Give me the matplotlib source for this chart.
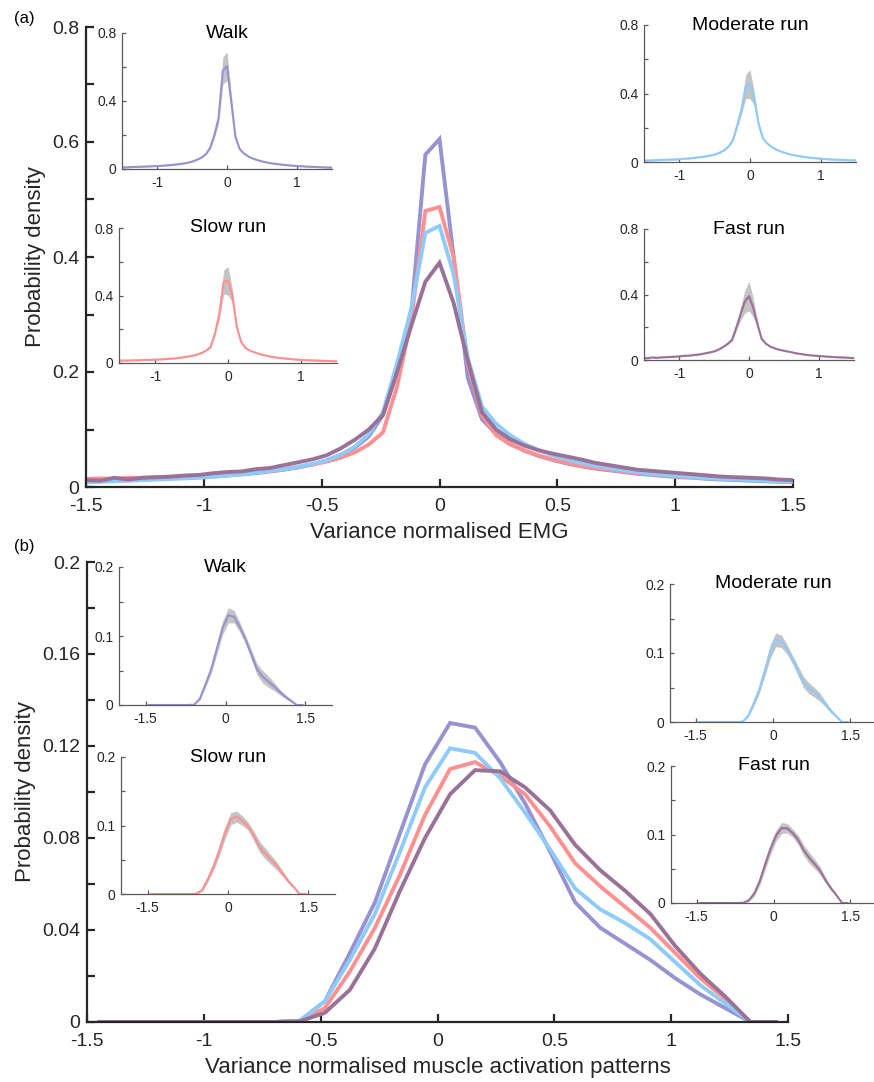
import matplotlib.pyplot as plt
import numpy as np
from matplotlib.ticker import MultipleLocator

plt.rcParams["font.family"] = ["Liberation Sans", "DejaVu Sans"]

conditions = ["Walk", "Slow run", "Moderate run", "Fast run"]
colors = ["#9793d0", "#ff9090", "#8ecbfa", "#9a7297"]

# (a) variance normalised EMG, bins of 0.06 from -1.5 to 1.5
emg_x = np.linspace(-1.5, 1.5, 51)
emg_walk = [0.009, 0.010, 0.011, 0.012, 0.013, 0.014, 0.015, 0.016, 0.017, 0.018,
            0.020, 0.022, 0.024, 0.027, 0.030, 0.034, 0.039, 0.046, 0.056, 0.068,
            0.088, 0.125, 0.200, 0.300, 0.578, 0.605, 0.400, 0.190, 0.118, 0.092,
            0.075, 0.063, 0.054, 0.047, 0.041, 0.036, 0.032, 0.029, 0.026, 0.023,
            0.021, 0.019, 0.017, 0.016, 0.014, 0.013, 0.012, 0.011, 0.010, 0.009,
            0.009]
emg_slow = [0.014, 0.015, 0.014, 0.016, 0.016, 0.017, 0.018, 0.018, 0.020, 0.021,
            0.022, 0.024, 0.026, 0.028, 0.031, 0.035, 0.039, 0.044, 0.051, 0.060,
            0.074, 0.095, 0.175, 0.290, 0.480, 0.487, 0.400, 0.215, 0.125, 0.090,
            0.074, 0.064, 0.055, 0.048, 0.042, 0.037, 0.033, 0.030, 0.027, 0.024,
            0.022, 0.020, 0.018, 0.017, 0.016, 0.015, 0.014, 0.013, 0.012, 0.011,
            0.011]
emg_mod = [0.008, 0.009, 0.010, 0.011, 0.012, 0.013, 0.014, 0.015, 0.016, 0.018,
           0.020, 0.022, 0.025, 0.028, 0.031, 0.035, 0.040, 0.046, 0.056, 0.070,
           0.092, 0.130, 0.215, 0.310, 0.442, 0.454, 0.370, 0.225, 0.140, 0.110,
           0.090, 0.075, 0.064, 0.055, 0.048, 0.042, 0.037, 0.033, 0.029, 0.026,
           0.023, 0.021, 0.019, 0.017, 0.015, 0.014, 0.013, 0.012, 0.011, 0.010,
           0.010]
emg_fast = [0.012, 0.011, 0.016, 0.013, 0.016, 0.017, 0.018, 0.020, 0.021, 0.024,
            0.026, 0.027, 0.031, 0.033, 0.038, 0.043, 0.048, 0.055, 0.067, 0.082,
            0.100, 0.125, 0.200, 0.280, 0.357, 0.390, 0.320, 0.220, 0.130, 0.100,
            0.083, 0.072, 0.064, 0.058, 0.053, 0.048, 0.042, 0.038, 0.034, 0.030,
            0.028, 0.026, 0.024, 0.022, 0.020, 0.018, 0.017, 0.016, 0.015, 0.013,
            0.012]
# spread between subjects (grey band in the insets)
emg_sd_walk = [0.003] * 21 + [0.008, 0.015, 0.030, 0.080, 0.085, 0.040, 0.015, 0.006] + [0.003] * 22
emg_sd_slow = [0.003] * 21 + [0.008, 0.015, 0.030, 0.070, 0.085, 0.040, 0.015, 0.006] + [0.003] * 22
emg_sd_mod = [0.003] * 21 + [0.008, 0.015, 0.030, 0.070, 0.085, 0.040, 0.015, 0.006] + [0.003] * 22
emg_sd_fast = [0.003] * 21 + [0.010, 0.020, 0.040, 0.070, 0.090, 0.060, 0.020, 0.008] + [0.003] * 22

# (b) variance normalised muscle activation patterns, 28 bins
map_x = np.linspace(-1.5, 1.5, 29)[:-1] + 3 / 56
map_walk = [0, 0, 0, 0, 0, 0, 0, 0, 0.0005, 0.009, 0.030, 0.052, 0.082, 0.112,
            0.130, 0.128, 0.113, 0.095, 0.074, 0.052, 0.041, 0.034, 0.027, 0.019,
            0.012, 0.006, 0, 0]
map_slow = [0, 0, 0, 0, 0, 0, 0, 0, 0.0005, 0.006, 0.022, 0.041, 0.064, 0.090,
            0.110, 0.113, 0.107, 0.099, 0.085, 0.069, 0.059, 0.050, 0.041, 0.030,
            0.019, 0.010, 0, 0]
map_mod = [0, 0, 0, 0, 0, 0, 0, 0, 0.0005, 0.009, 0.027, 0.047, 0.074, 0.102,
           0.119, 0.117, 0.106, 0.091, 0.075, 0.058, 0.049, 0.043, 0.036, 0.026,
           0.016, 0.008, 0, 0]
map_fast = [0, 0, 0, 0, 0, 0, 0, 0, 0.0003, 0.004, 0.014, 0.032, 0.057, 0.080,
            0.099, 0.1095, 0.109, 0.102, 0.092, 0.077, 0.066, 0.057, 0.047, 0.033,
            0.021, 0.011, 0, 0]
map_sd_walk = [0] * 9 + [0.002, 0.004, 0.006, 0.008, 0.010, 0.011, 0.009, 0.007, 0.006,
                         0.007, 0.008, 0.009, 0.008, 0.006, 0.004, 0.003, 0.002] + [0] * 2
map_sd_slow = [0] * 9 + [0.002, 0.004, 0.006, 0.008, 0.009, 0.009, 0.008, 0.007, 0.006,
                         0.007, 0.008, 0.008, 0.007, 0.006, 0.004, 0.003, 0.002] + [0] * 2
map_sd_mod = [0] * 9 + [0.002, 0.004, 0.006, 0.008, 0.010, 0.010, 0.009, 0.007, 0.006,
                        0.007, 0.008, 0.008, 0.007, 0.006, 0.004, 0.003, 0.002] + [0] * 2
map_sd_fast = [0] * 9 + [0.002, 0.004, 0.006, 0.008, 0.008, 0.008, 0.008, 0.007, 0.006,
                         0.007, 0.008, 0.008, 0.007, 0.006, 0.004, 0.003, 0.002] + [0] * 2

FIG_W, FIG_H = 874, 1082
INK = "#262626"


def px_rect(left, top, right, bottom):
    """Convierte un rectangulo en pixeles de la figura a fracciones."""
    return [left / FIG_W, 1 - bottom / FIG_H, (right - left) / FIG_W, (bottom - top) / FIG_H]


def style_axes(ax, lw, color, labelsize, ticklen, xpad, ypad):
    ax.spines["top"].set_visible(False)
    ax.spines["right"].set_visible(False)
    for side in ("left", "bottom"):
        ax.spines[side].set_linewidth(lw)
        ax.spines[side].set_color(color)
    ax.tick_params(which="both", direction="in", width=lw, color=color,
                   labelsize=labelsize, labelcolor=INK, length=ticklen)
    ax.tick_params(axis="x", which="both", pad=xpad)
    ax.tick_params(axis="y", which="both", pad=ypad)


def draw_main(ax, x, series, ylim, ymajor, yminor, xlabel):
    for y, c in zip(series, colors):
        ax.plot(x, y, color=c, lw=2.8, solid_joinstyle="miter")
    ax.set_xlim(-1.5, 1.5)
    ax.set_ylim(*ylim)
    ax.xaxis.set_major_locator(MultipleLocator(0.5))
    ax.yaxis.set_major_locator(MultipleLocator(ymajor))
    ax.yaxis.set_minor_locator(MultipleLocator(yminor))
    ax.xaxis.set_major_formatter(lambda v, p: f"{v:g}")
    ax.yaxis.set_major_formatter(lambda v, p: f"{v:g}")
    style_axes(ax, 1.6, INK, 14, 6, 8, 5)
    ax.set_xlabel(xlabel, fontsize=16, color=INK, labelpad=5)
    ax.set_ylabel("Probability density", fontsize=16, color=INK, labelpad=4)


def draw_inset(fig, rect, x, y, sd, color, title, xlim, xticks, ylim, ymajor):
    ax = fig.add_axes(rect)
    y = np.asarray(y)
    sd = np.asarray(sd)
    ax.fill_between(x, y - sd, y + sd, color="#c4c4c4", lw=0)
    ax.plot(x, y, color=color, lw=1.5)
    ax.set_xlim(*xlim)
    ax.set_ylim(*ylim)
    ax.set_xticks(xticks)
    ax.yaxis.set_major_locator(MultipleLocator(ymajor))
    ax.yaxis.set_minor_locator(MultipleLocator(ymajor / 2))
    ax.xaxis.set_major_formatter(lambda v, p: f"{v:g}")
    ax.yaxis.set_major_formatter(lambda v, p: f"{v:g}")
    style_axes(ax, 0.9, "#5a5a5a", 10, 3, 5, 4)
    ax.text(0.5, 1.0, title, transform=ax.transAxes, ha="center", va="center",
            fontsize=14, color="black")
    return ax


fig = plt.figure(figsize=(FIG_W / 100, FIG_H / 100), dpi=100)

# panel (a)
ax_a = fig.add_axes(px_rect(86, 27, 793, 487))
draw_main(ax_a, emg_x, [emg_walk, emg_slow, emg_mod, emg_fast], (0, 0.8), 0.2, 0.1,
          "Variance normalised EMG")
fig.text(14 / FIG_W, 1 - 18 / FIG_H, "(a)", fontsize=12, va="center")

emg_sets = [(emg_walk, emg_sd_walk), (emg_slow, emg_sd_slow), (emg_mod, emg_sd_mod), (emg_fast, emg_sd_fast)]
emg_rects = [px_rect(122, 33, 332, 169), px_rect(119, 228, 337, 363),
             px_rect(644, 25, 856, 162), px_rect(644, 229, 854, 360)]
for (y, sd), rect, c, name in zip(emg_sets, emg_rects, colors, conditions):
    draw_inset(fig, rect, emg_x, y, sd, c, name, (-1.5, 1.5), [-1, 0, 1], (0, 0.8), 0.4)

# panel (b)
ax_b = fig.add_axes(px_rect(87, 562, 788, 1022))
draw_main(ax_b, map_x, [map_walk, map_slow, map_mod, map_fast], (0, 0.2), 0.04, 0.02,
          "Variance normalised muscle activation patterns")
fig.text(14 / FIG_W, 1 - 547 / FIG_H, "(b)", fontsize=12, va="center")

map_sets = [(map_walk, map_sd_walk), (map_slow, map_sd_slow), (map_mod, map_sd_mod), (map_fast, map_sd_fast)]
map_rects = [px_rect(119, 567, 332, 705), px_rect(121, 757, 335, 894),
             px_rect(670, 584, 876, 722), px_rect(671, 766, 876, 903)]
for (y, sd), rect, c, name in zip(map_sets, map_rects, colors, conditions):
    draw_inset(fig, rect, map_x, y, sd, c, name, (-2, 2), [-1.5, 0, 1.5], (0, 0.2), 0.1)

fig.savefig("out.png", dpi=100)
